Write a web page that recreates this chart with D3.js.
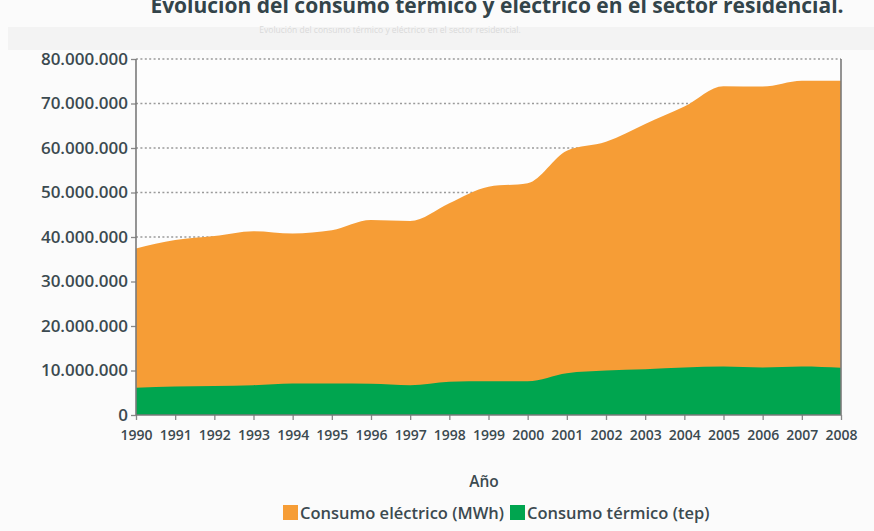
<!DOCTYPE html>
<html><head><meta charset="utf-8">
<script src="https://cdn.jsdelivr.net/npm/d3@7"></script>
<style>
html,body{margin:0;padding:0;background:#fbfbfb;}
svg{display:block;font-family:"Open Sans",sans-serif;}
</style></head>
<body>
<svg id="chart" width="874" height="531"></svg>
<script>
const years = [1990,1991,1992,1993,1994,1995,1996,1997,1998,1999,2000,2001,2002,2003,2004,2005,2006,2007,2008];
const electrico = [37.4,39.3,40.2,41.3,40.8,41.5,43.8,43.6,47.6,51.3,52.1,59.4,61.4,65.4,69.3,73.9,73.8,75.1,75.1].map(v=>v*1e6);
const termico = [6.1,6.4,6.5,6.7,7.1,7.1,7.0,6.7,7.5,7.6,7.6,9.4,10.0,10.3,10.7,10.9,10.7,10.9,10.6].map(v=>v*1e6);
const yTicks = [0,10e6,20e6,30e6,40e6,50e6,60e6,70e6,80e6];
const seriesNames = ["Consumo eléctrico (MWh)","Consumo térmico (tep)"];
const colors = ["#f69d36","#00a54f"];
const title = "Evolución del consumo térmico y eléctrico en el sector residencial.";
const xTitle = "Año";

const svg = d3.select("#chart");
const textCol = "#3b4a50";
const L=136, R=841, T=59, B=415;

// background bands
svg.append("rect").attr("x",0).attr("y",0).attr("width",874).attr("height",531).attr("fill","#fbfbfb");
svg.append("rect").attr("x",8).attr("y",27).attr("width",866).attr("height",23).attr("fill","#f3f3f3");
svg.append("rect").attr("x",L).attr("y",T).attr("width",R-L).attr("height",B-T).attr("fill","#fdfdfd");

// title (cropped at top)
svg.append("text").attr("x",497).attr("y",13).attr("text-anchor","middle")
  .attr("font-size",21).attr("font-weight",700).attr("fill","#33444a").text(title);
svg.append("text").attr("x",390).attr("y",33).attr("text-anchor","middle")
  .attr("font-size",8.5).attr("fill","#dadada").text(title);

const x = d3.scalePoint().domain(years).range([L,R]);
const y = d3.scaleLinear().domain([0,80e6]).range([B,T]);

// gridlines
svg.append("g").selectAll("line").data(yTicks.filter(d=>d>0)).join("line")
  .attr("x1",L).attr("x2",R).attr("y1",d=>y(d)).attr("y2",d=>y(d))
  .attr("stroke","#9a9a9a").attr("stroke-width",1.3).attr("stroke-dasharray","2,2.4");

const area = vals => d3.area().x((d,i)=>x(years[i])).y0(B).y1(d=>y(d)).curve(d3.curveMonotoneX)(vals);
svg.append("path").attr("d",area(electrico)).attr("fill",colors[0]);
svg.append("path").attr("d",area(termico)).attr("fill",colors[1]);

// axes
const yAxis = svg.append("g").attr("transform",`translate(${L},0)`)
  .call(d3.axisLeft(y).tickValues(yTicks).tickSize(5).tickPadding(3)
    .tickFormat(d=>d3.format(",")(d).replace(/,/g,".")));
yAxis.select(".domain").remove();
yAxis.selectAll("line").attr("stroke","#888").attr("stroke-width",1.3);
yAxis.selectAll("text").attr("font-size",17).attr("font-weight",600).attr("fill",textCol)
  .attr("font-family","Open Sans, sans-serif");

const xAxis = svg.append("g").attr("transform",`translate(0,${B})`)
  .call(d3.axisBottom(x).tickSize(5).tickPadding(10));
xAxis.select(".domain").remove();
xAxis.selectAll("line").attr("stroke","#888").attr("stroke-width",1.3);
xAxis.selectAll("text").attr("font-size",14).attr("font-weight",600).attr("fill",textCol)
  .attr("font-family","Open Sans, sans-serif");

svg.append("line").attr("x1",L).attr("x2",L).attr("y1",T).attr("y2",B).attr("stroke","#7a7a7a").attr("stroke-width",1.6);
svg.append("line").attr("x1",R).attr("x2",R).attr("y1",T).attr("y2",B).attr("stroke","#7a7a7a").attr("stroke-width",1.6);
svg.append("line").attr("x1",L).attr("x2",R).attr("y1",B).attr("y2",B).attr("stroke","#7a7a7a").attr("stroke-width",1.3);

// x title
svg.append("text").attr("x",484).attr("y",487).attr("text-anchor","middle")
  .attr("font-size",15.5).attr("font-weight",600).attr("fill",textCol).text(xTitle);

// legend
const leg = svg.append("g");
const lx = [283, 510];
seriesNames.forEach((n,i)=>{
  leg.append("rect").attr("x",lx[i]).attr("y",505).attr("width",15).attr("height",15).attr("fill",colors[i]);
  leg.append("text").attr("x",lx[i]+17).attr("y",519).attr("font-size",16.5).attr("font-weight",600)
    .attr("fill",textCol).text(n);
});
</script>
</body></html>
